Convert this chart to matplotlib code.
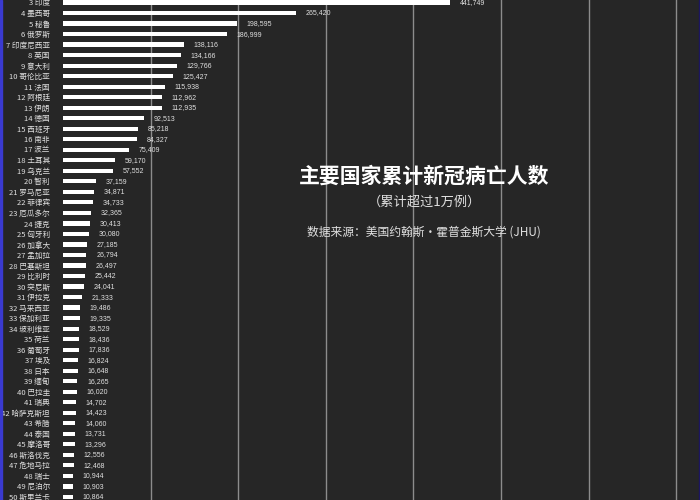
import matplotlib.pyplot as plt
from matplotlib.patches import Rectangle

plt.rcParams['font.family'] = ['Noto Sans CJK SC', 'DejaVu Sans']

# 国家与累计病亡人数（前两名在原图中被裁掉，数值为估计）
countries = ['美国', '巴西', '印度', '墨西哥', '秘鲁', '俄罗斯', '印度尼西亚', '英国',
             '意大利', '哥伦比亚', '法国', '阿根廷', '伊朗', '德国', '西班牙', '南非',
             '波兰', '土耳其', '乌克兰', '智利', '罗马尼亚', '菲律宾', '厄瓜多尔', '捷克',
             '匈牙利', '加拿大', '孟加拉', '巴基斯坦', '比利时', '突尼斯', '伊拉克',
             '马来西亚', '保加利亚', '玻利维亚', '荷兰', '葡萄牙', '埃及', '日本', '缅甸',
             '巴拉圭', '瑞典', '哈萨克斯坦', '希腊', '泰国', '摩洛哥', '斯洛伐克',
             '危地马拉', '瑞士', '尼泊尔', '斯里兰卡']
deaths = [700000, 597000, 441749, 265420, 198595, 186999, 138116, 134166,
          129766, 125427, 115938, 112962, 112935, 92513, 85218, 84327,
          75409, 59170, 57552, 37159, 34871, 34733, 32365, 30413,
          30080, 27185, 26794, 26497, 25442, 24041, 21333,
          19486, 19335, 18529, 18436, 17836, 16824, 16648, 16265,
          16020, 14702, 14423, 14060, 13731, 13296, 12556,
          12468, 10944, 10903, 10864]
ranks = list(range(1, len(countries) + 1))

bg = '#262626'
fig = plt.figure(figsize=(7, 5), dpi=100, facecolor=bg)
# 原图只显示了长图的一部分，轴区域超出画布上下边界
ax = fig.add_axes([63 / 700, -0.0044, 1 - 63 / 700, 1.052])
ax.set_facecolor(bg)

ax.barh(ranks, deaths, height=0.4, color='white')
ax.set_xlim(0, 727000)
ax.set_ylim(50.5, 0.5)

ax.set_xticks(range(100000, 800000, 100000))
ax.grid(axis='x', color='#8c8c8c', linewidth=1)
ax.set_axisbelow(True)
ax.tick_params(left=False, bottom=False, labelbottom=False)
ax.set_yticks(ranks)
ax.set_yticklabels([f'{r} {c}' for r, c in zip(ranks, countries)],
                   fontsize=5.5, color='#e0e0e0')
ax.tick_params(axis='y', pad=6)
for s in ax.spines.values():
    s.set_visible(False)

for r, v in zip(ranks, deaths):
    ax.annotate(f'{v:,}', (v, r), xytext=(7, 0), textcoords='offset points',
                va='center', ha='left', fontsize=5, color='#e0e0e0',
                family=['Liberation Sans', 'DejaVu Sans'])

fig.text(0.606, 0.648, '主要国家累计新冠病亡人数', ha='center', va='center',
         fontsize=15, fontweight='bold', color='white')
fig.text(0.606, 0.596, '（累计超过1万例）', ha='center', va='center',
         fontsize=9.5, color='#e0e0e0')
fig.text(0.606, 0.536, '数据来源：美国约翰斯·霍普金斯大学 (JHU)', ha='center', va='center',
         fontsize=8.5, color='#e0e0e0')

# 边框
fig.patches.append(Rectangle((0, 0), 2 / 700, 1, transform=fig.transFigure,
                             color='#3a3ad0', zorder=10))
fig.patches.append(Rectangle((1 - 1.5 / 700, 0), 1.5 / 700, 1, transform=fig.transFigure,
                             color='#1c1660', zorder=10))

fig.savefig('out.png', dpi=100, facecolor=bg)
